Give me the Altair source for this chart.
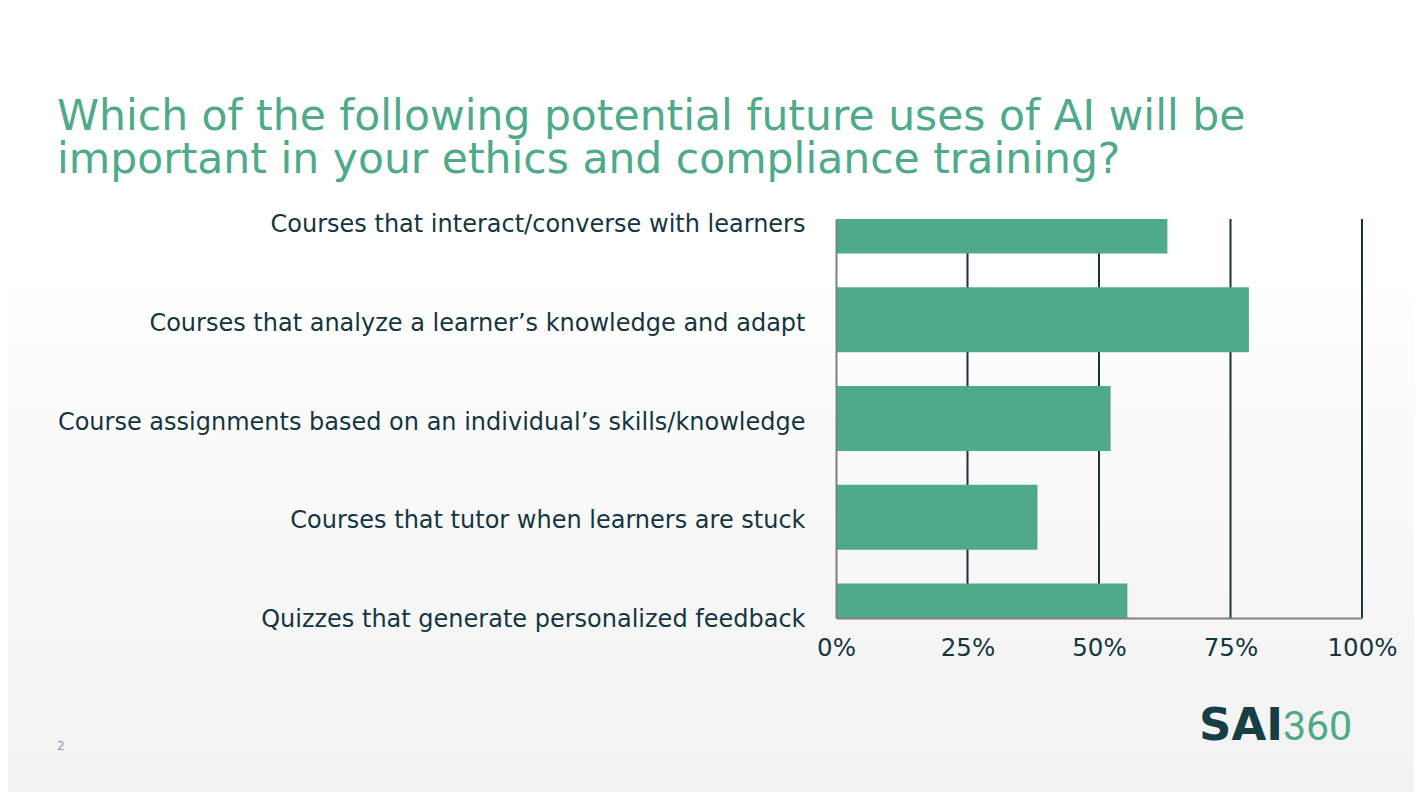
import altair as alt
import pandas as pd

categories = [
    "Courses that interact/converse with learners",
    "Courses that analyze a learner\u2019s knowledge and adapt",
    "Course assignments based on an individual\u2019s skills/knowledge",
    "Courses that tutor when learners are stuck",
    "Quizzes that generate personalized feedback",
]
values = [0.63, 0.785, 0.522, 0.383, 0.554]
grid_values = [0.25, 0.5, 0.75, 1.0]
tick_values = [0, 0.25, 0.5, 0.75, 1.0]
title_lines = [
    "Which of the following potential future uses of AI will be",
    "important in your ethics and compliance training?",
]

GREEN = "#4EAA88"
DARK = "#15363F"
GREY = "#808080"
FONT = "DejaVu Sans"

W, H = 526, 399
PAD = {"left": 828, "top": 211, "right": 52, "bottom": 174}
TOP = PAD["top"] + 8  # page y of plot top
LEFT = PAD["left"] + 8  # page x of plot left

df = pd.DataFrame({"cat": categories, "val": values})
grid_df = pd.DataFrame({"g": grid_values})
one = pd.DataFrame({"a": [0]})

xscale = alt.Scale(domain=[0, 1], nice=False, zero=True)

bg = alt.Chart(one).mark_rect(
    fill=alt.LinearGradient(
        gradient="linear",
        x1=0, y1=0, x2=0, y2=1,
        stops=[alt.GradientStop(color="#ffffff", offset=0),
               alt.GradientStop(color="#ffffff", offset=0.3),
               alt.GradientStop(color="#f2f2f2", offset=1)],
    )
).encode(
    x=alt.value(-PAD["left"]), x2=alt.value(W + PAD["right"]),
    y=alt.value(-PAD["top"]), y2=alt.value(H + PAD["bottom"]),
)

grid = alt.Chart(grid_df).mark_rule(color="#17353F", strokeWidth=2).encode(
    x=alt.X("g:Q", scale=xscale),
    y=alt.value(0), y2=alt.value(H),
)

bars = alt.Chart(df).mark_bar(color=GREEN, size=65, clip=True).encode(
    x=alt.X("val:Q", scale=xscale, title=None,
            axis=alt.Axis(values=tick_values, format=".0%", grid=False, ticks=False,
                          domainColor=GREY, domainWidth=2, labelFlush=False,
                          labelFont=FONT, labelFontSize=24.5, labelColor=DARK,
                          labelPadding=18, zindex=2)),
    y=alt.Y("cat:N", sort=categories, title=None,
            scale=alt.Scale(type="point", padding=0.02),
            axis=alt.Axis(ticks=False, domainColor=GREY, domainWidth=2,
                          labelFont=FONT, labelFontSize=24, labelColor=DARK,
                          labelPadding=31, labelLimit=900, labelOffset=3.5,
                          zindex=2)),
)

title = alt.Chart(pd.DataFrame({"t": [title_lines]})).mark_text(
    align="left", baseline="alphabetic", font=FONT, fontSize=42.5,
    color=GREEN, lineHeight=43,
).encode(text="t", x=alt.value(57 - LEFT), y=alt.value(130 - TOP))

logo_a = alt.Chart(pd.DataFrame({"t": ["SAI"]})).mark_text(
    align="left", baseline="alphabetic", font=FONT, fontSize=45,
    fontWeight="bold", color="#173D45",
).encode(text="t", x=alt.value(1199 - LEFT), y=alt.value(740 - TOP))

logo_b = alt.Chart(pd.DataFrame({"t": ["360"]})).mark_text(
    align="left", baseline="alphabetic", font="Roboto", fontSize=41,
    color=GREEN,
).encode(text="t", x=alt.value(1283 - LEFT), y=alt.value(740 - TOP))

page = alt.Chart(pd.DataFrame({"t": ["2"]})).mark_text(
    align="left", baseline="alphabetic", font=FONT, fontSize=12,
    color="#8C9FBF",
).encode(text="t", x=alt.value(57 - LEFT), y=alt.value(750 - TOP))

chart = alt.layer(bg, grid, bars, title, logo_a, logo_b, page).properties(
    width=W, height=H, padding=PAD,
    autosize=alt.AutoSizeParams(type="none"),
).configure_view(stroke=None).configure(background="#ffffff")

chart.save("out.html", embed_options={"renderer": "svg", "actions": False})
